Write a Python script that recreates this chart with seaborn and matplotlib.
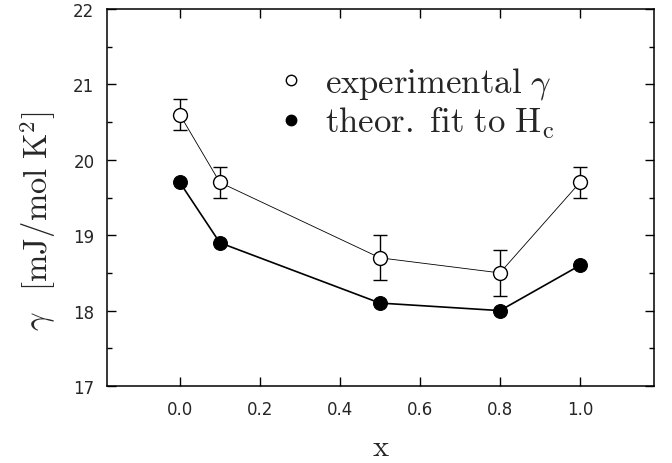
import numpy as np
import pandas as pd
import matplotlib
matplotlib.use("Agg")
import matplotlib.pyplot as plt
from matplotlib.lines import Line2D
import seaborn as sns

x_vals = [0.0, 0.1, 0.5, 0.8, 1.0]
exp_gamma = [20.6, 19.7, 18.7, 18.5, 19.7]
exp_err = [0.2, 0.2, 0.3, 0.3, 0.2]
fit_gamma = [19.7, 18.9, 18.1, 18.0, 18.6]
x_ticks = [0.0, 0.2, 0.4, 0.6, 0.8, 1.0]
y_ticks = [17, 18, 19, 20, 21, 22]

sns.set_style("ticks")
plt.rcParams['mathtext.fontset'] = 'cm'
plt.rcParams['font.family'] = ['DejaVu Sans']

df_exp = pd.DataFrame({"x": x_vals, "g": exp_gamma, "e": exp_err})
df_fit = pd.DataFrame({"x": x_vals, "g": fit_gamma})

fig = plt.figure(figsize=(6.72, 4.64), dpi=100)
ax = fig.add_axes([107/672, 1 - 387/464, 547/672, 377/464])

ax.errorbar(df_exp["x"], df_exp["g"], yerr=df_exp["e"], fmt='none',
            ecolor='black', elinewidth=1.0, capsize=4.8, capthick=1.0, zorder=2)
sns.lineplot(data=df_exp, x="x", y="g", ax=ax, color='black', linewidth=0.6,
             marker='o', markersize=10, markerfacecolor='white',
             markeredgecolor='black', markeredgewidth=1.0, zorder=3)
sns.lineplot(data=df_fit, x="x", y="g", ax=ax, color='black', linewidth=1.2,
             marker='o', markersize=10, markerfacecolor='black',
             markeredgecolor='black', zorder=3)

ax.set_xlim(-0.182, 1.185)
ax.set_ylim(17, 22)
ax.set_xticks(x_ticks)
ax.set_xticklabels([f"{t:.1f}" for t in x_ticks])
ax.set_yticks(y_ticks)
ax.set_yticks(np.arange(17, 22.01, 0.5), minor=True)
ax.tick_params(axis='both', which='both', direction='in', top=True, right=True,
               labelsize=12, width=1.0, color='black')
ax.tick_params(axis='both', which='major', length=6.5)
ax.tick_params(axis='both', which='minor', length=3.6)
ax.tick_params(axis='x', pad=10)
ax.tick_params(axis='y', pad=9)
for s in ax.spines.values():
    s.set_linewidth(1.1)
    s.set_color('black')

ax.set_xlabel(r'$\mathrm{x}$', fontsize=22, labelpad=10)
ax.set_ylabel(r'$\gamma\ \ \,[\mathrm{mJ/mol\ K}^2]$', fontsize=23.5)
ax.yaxis.set_label_coords(-0.09, 0.44)

handles = [
    Line2D([], [], linestyle='none', marker='o', markersize=7.5,
           markerfacecolor='white', markeredgecolor='black', markeredgewidth=1.0),
    Line2D([], [], linestyle='none', marker='o', markersize=7.5,
           markerfacecolor='black', markeredgecolor='black'),
]
labels = [r'$\mathrm{experimental}\ \gamma$', r'$\mathrm{theor.\ fit\ to\ H_c}$']
ax.legend(handles, labels, loc='upper left', bbox_to_anchor=(0.305, 0.852),
          frameon=False, fontsize=25, handletextpad=0.48, labelspacing=0.1,
          borderaxespad=0, borderpad=0, handlelength=1.0)

fig.savefig("out.png", dpi=100)
